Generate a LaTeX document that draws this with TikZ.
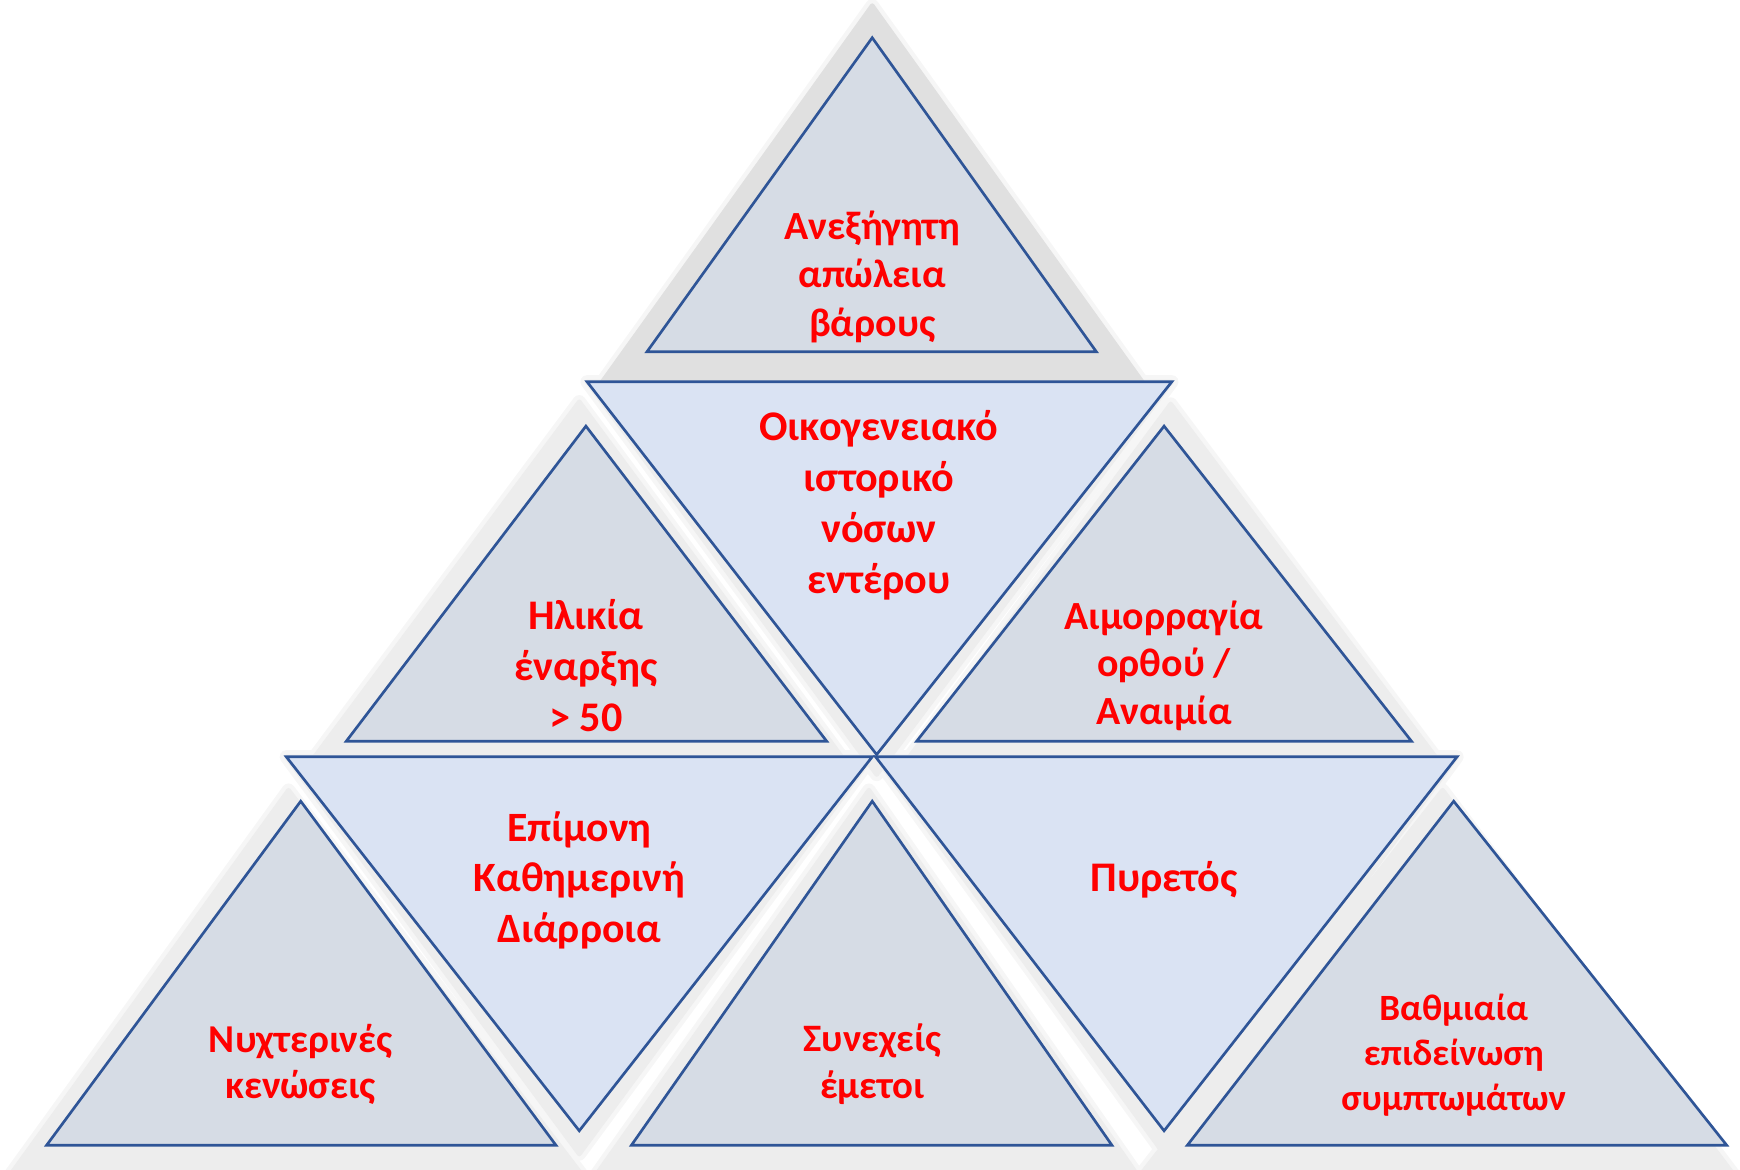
\documentclass[tikz,border=0pt]{standalone}
\usepackage{fontspec}
\setmainfont{Carlito}
\definecolor{edge}{HTML}{2F5597}
\definecolor{upfill}{HTML}{D6DCE5}
\definecolor{dnfill}{HTML}{DAE3F3}
\definecolor{txt}{HTML}{FF0000}
\definecolor{shcore}{HTML}{EDEDED}
\definecolor{shhalo}{HTML}{F6F6F6}
\definecolor{shtop}{HTML}{E0E0E0}
\begin{document}
\begin{tikzpicture}[x=0.5pt,y=-0.5pt,
  tri/.style={draw=edge, line width=1.2pt, line join=miter},
  uptri/.style={tri, fill=upfill},
  dntri/.style={tri, fill=dnfill},
  halo/.style={fill=shhalo, draw=shhalo, line width=6pt, line join=round},
  core/.style={fill=shcore, draw=shcore, line width=2pt, line join=round},
  lbl/.style={text=txt, align=center, inner sep=0pt},
  fs/.style 2 args={font=\bfseries\fontsize{#1}{#2}\selectfont}]
\useasboundingbox (0,0) rectangle (1568,1054);
\clip (0,0) rectangle (1568,1054);
% shapes
\def\pTa{(786,34) -- (988,317) -- (583,317) -- cycle}
\def\pDa{(529,344) -- (1056,344) -- (790,680) -- cycle}
\def\pTb{(528,384) -- (745,668) -- (312,668) -- cycle}
\def\pTc{(1049,384) -- (1272,668) -- (826,668) -- cycle}
\def\pDb{(258,682) -- (786,682) -- (522,1019) -- cycle}
\def\pDc{(789,682) -- (1313,682) -- (1049,1019) -- cycle}
\def\pTd{(271,722) -- (501,1032) -- (42,1032) -- cycle}
\def\pTe{(786,722) -- (1002,1032) -- (569,1032) -- cycle}
\def\pTf{(1310,722) -- (1556,1032) -- (1070,1032) -- cycle}
% their soft shadows
\def\sTa{(786,5) -- (1030,345) -- (542,345) -- cycle}
\def\sDa{(529,344) -- (1056,344) -- (790,698) -- cycle}
\def\sTb{(522,362) -- (760,684) -- (282,684) -- cycle}
\def\sTc{(1055,364) -- (1295,684) -- (818,684) -- cycle}
\def\sDb{(258,682) -- (786,682) -- (522,1040) -- cycle}
\def\sDc{(789,682) -- (1313,682) -- (1049,1040) -- cycle}
\def\sTd{(260,712) -- (530,1066) -- (4,1066) -- cycle}
\def\sTe{(783,712) -- (1030,1066) -- (532,1066) -- cycle}
\def\sTf{(1300,712) -- (1568,1066) -- (1022,1066) -- cycle}
\foreach \p in {\sDa,\sTb,\sTc,\sDb,\sDc,\sTd,\sTe,\sTf,\sTa}{\path[halo] \p;}
\foreach \p in {\sDa,\sTb,\sTc,\sDb,\sDc,\sTd,\sTe,\sTf}{\path[core] \p;}
\path[core, fill=shtop, draw=shtop] \sTa;
\path[uptri] \pTa;
\path[dntri] \pDa;
\path[uptri] \pTb;
\path[uptri] \pTc;
\path[dntri] \pDb;
\path[dntri] \pDc;
\path[uptri] \pTd;
\path[uptri] \pTe;
\path[uptri] \pTf;
% labels
\node[lbl, fs={18}{21.75}] (l1) at (786,249.5) {Ανεξήγητη\\απώλεια\\βάρους};
\node[lbl, fs={19}{23}] (l2) at (792,455) {Οικογενειακό\\ιστορικό\\νόσων\\εντέρου};
\node[lbl, fs={19}{23}] (l3) at (528,599.5) {Ηλικία\\έναρξης\\> 50};
\node[lbl, fs={18}{21.5}] (l4) at (1049,600) {Αιμορραγία\\ορθού /\\Αναιμία};
\node[lbl, fs={18.8}{22.75}] (l5) at (522,793) {Επίμονη\\Καθημερινή\\Διάρροια};
\node[lbl, fs={19}{23}] (l6) at (1049,793) {Πυρετός};
\node[lbl, fs={17.8}{21}] (l7) at (271,959) {Νυχτερινές\\κενώσεις};
\node[lbl, fs={17.5}{21}] (l8) at (786,959) {Συνεχείς\\έμετοι};
\node[lbl, fs={16.7}{20.25}] (l9) at (1310,950.5) {Βαθμιαία\\επιδείνωση\\συμπτωμάτων};
\end{tikzpicture}
\end{document}
